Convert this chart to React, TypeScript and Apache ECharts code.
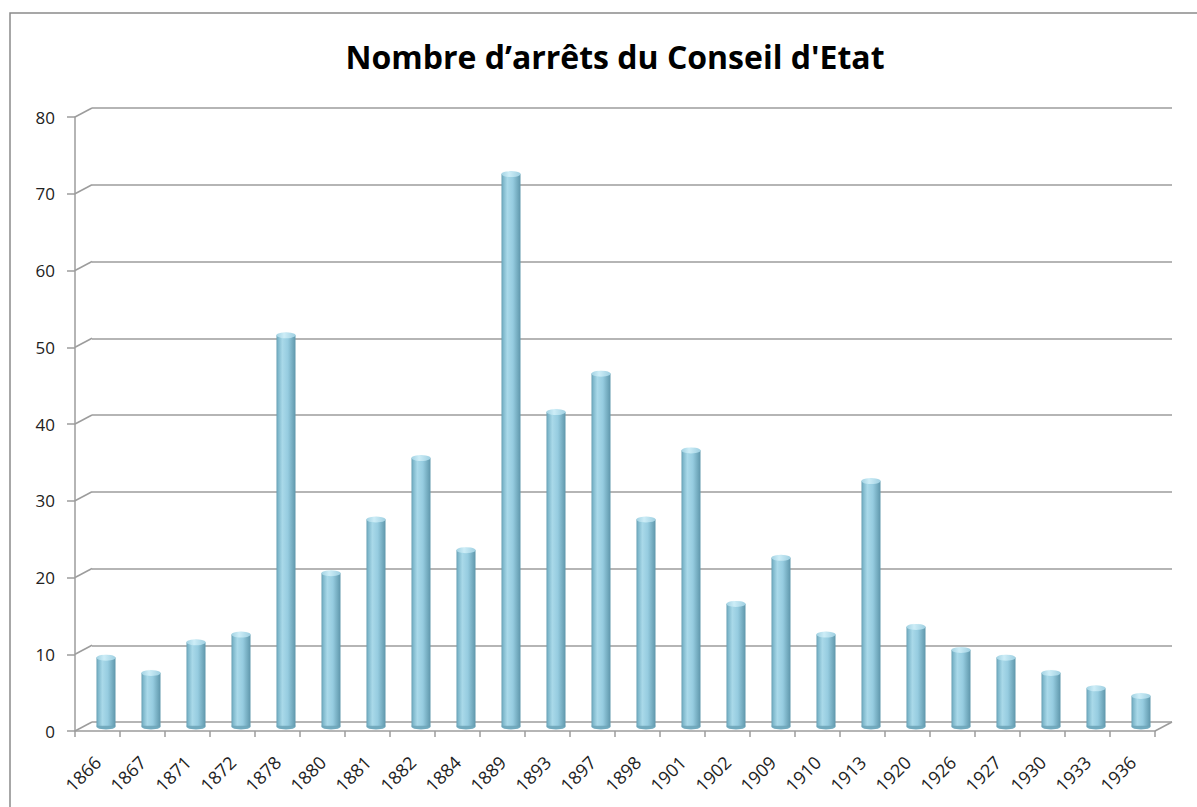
import React, { useEffect, useRef } from "react";
import * as echarts from "echarts";

const years = ["1866","1867","1871","1872","1878","1880","1881","1882","1884","1889","1893","1897","1898","1901","1902","1909","1910","1913","1920","1926","1927","1930","1933","1936"];
const counts = [9,7,11,12,51,20,27,35,23,72,41,46,27,36,16,22,12,32,13,10,9,7,5,4];
const yTicks = [0,10,20,30,40,50,60,70,80];
const titleText = "Nombre d\u2019arr\u00eats du Conseil d'Etat";

const FONT = "'Open Sans', Lato, sans-serif";
const GRID_COLOR = "#9c9c9c";
const DX = 17;
const DY = 9;

export default function App() {
  const ref = useRef<HTMLDivElement>(null);
  useEffect(() => {
    if (!ref.current) return;
    const chart = echarts.init(ref.current, null, { renderer: "svg" });
    const barFill = new echarts.graphic.LinearGradient(0, 0, 1, 0, [
      { offset: 0, color: "#6fabc0" },
      { offset: 0.3, color: "#a9d9e9" },
      { offset: 0.6, color: "#96cce0" },
      { offset: 1, color: "#6199ad" },
    ]);
    const capFill = new echarts.graphic.LinearGradient(0, 0, 1, 0, [
      { offset: 0, color: "#a2d2e3" },
      { offset: 0.4, color: "#cdedf7" },
      { offset: 1, color: "#9ecfe1" },
    ]);
    const option: any = {
      animation: false,
      backgroundColor: "#ffffff",
      title: {
        text: titleText,
        left: 610,
        textAlign: "center",
        top: 35,
        textStyle: { fontFamily: FONT, fontWeight: "bold", fontSize: 32, color: "#000" },
      },
      graphic: [
        {
          type: "rect",
          shape: { x: 10, y: 13, width: 1200, height: 810 },
          style: { fill: "none", stroke: "#8a8a8a", lineWidth: 1.5 },
          silent: true,
        },
      ],
      grid: [
        { left: 75, right: 1197 - 1155, top: 117, bottom: 807 - 731 },
        { left: 75 + DX, right: 1197 - 1155 - DX, top: 117 - DY, bottom: 807 - 731 + DY },
        { left: 75 + DX / 2, right: 1197 - 1155 - DX / 2, top: 117 - DY / 2, bottom: 807 - 731 + DY / 2 },
      ],
      xAxis: [
        {
          gridIndex: 0,
          type: "category",
          data: years,
          axisLine: { show: true, lineStyle: { color: GRID_COLOR, width: 1.5 } },
          axisTick: { show: true, length: 6, lineStyle: { color: GRID_COLOR, width: 1.5 } },
          axisLabel: { rotate: 45, margin: 28, fontFamily: FONT, fontSize: 18, color: "#222", interval: 0 },
        },
        { gridIndex: 1, type: "category", data: years, show: false },
        { gridIndex: 2, type: "category", data: years, show: false },
      ],
      yAxis: [
        {
          gridIndex: 0,
          type: "value",
          min: 0,
          max: 80,
          interval: 10,
          axisLine: { show: true, lineStyle: { color: GRID_COLOR, width: 1.5 } },
          axisTick: { show: true, length: 8, lineStyle: { color: GRID_COLOR, width: 1.5 } },
          axisLabel: { margin: 20, fontFamily: FONT, fontSize: 17, color: "#222" },
          splitLine: { show: false },
        },
        {
          gridIndex: 1,
          type: "value",
          min: 0,
          max: 80,
          interval: 10,
          axisLine: { show: false },
          axisTick: { show: false },
          axisLabel: { show: false },
          splitLine: { show: true, lineStyle: { color: GRID_COLOR, width: 1.5 } },
        },
        {
          gridIndex: 2,
          type: "value",
          min: 0,
          max: 80,
          interval: 10,
          show: false,
          splitLine: { show: false },
        },
      ],
      series: [
        {
          type: "custom",
          xAxisIndex: 1,
          yAxisIndex: 1,
          silent: true,
          z: 1,
          data: yTicks.map((v) => [years[0], v]),
          renderItem: (params: any, api: any) => {
            const cs = params.coordSys;
            const y = api.coord([years[0], api.value(1)])[1];
            const children: any[] = [
              {
                type: "line",
                shape: { x1: cs.x - DX, y1: y + DY, x2: cs.x, y2: y },
                style: { stroke: GRID_COLOR, lineWidth: 1.5 },
              },
            ];
            if (api.value(1) === 0) {
              children.push({
                type: "line",
                shape: { x1: cs.x + cs.width - DX, y1: y + DY, x2: cs.x + cs.width, y2: y },
                style: { stroke: GRID_COLOR, lineWidth: 1.5 },
              });
            }
            return { type: "group", children };
          },
        },
        {
          type: "bar",
          xAxisIndex: 2,
          yAxisIndex: 2,
          data: counts,
          barWidth: 19,
          z: 3,
          itemStyle: { color: barFill, borderColor: "#6a9fb2", borderWidth: 0.6 },
        },
        {
          type: "pictorialBar",
          xAxisIndex: 2,
          yAxisIndex: 2,
          data: counts,
          symbol: "circle",
          symbolSize: [19, 6],
          symbolPosition: "start",
          symbolOffset: [0, "50%"],
          z: 2,
          itemStyle: { color: "#72abbf" },
        },
        {
          type: "pictorialBar",
          xAxisIndex: 2,
          yAxisIndex: 2,
          data: counts,
          symbol: "circle",
          symbolSize: [19, 6],
          symbolPosition: "end",
          symbolOffset: [0, "-50%"],
          z: 4,
          itemStyle: { color: capFill, borderColor: "#7fb6c9", borderWidth: 0.8 },
        },
      ],
    };
    chart.setOption(option);
    return () => chart.dispose();
  }, []);
  return (
    <div
      ref={ref}
      style={{ position: "fixed", left: 0, top: 0, width: 1197, height: 807, background: "#fff" }}
    />
  );
}
